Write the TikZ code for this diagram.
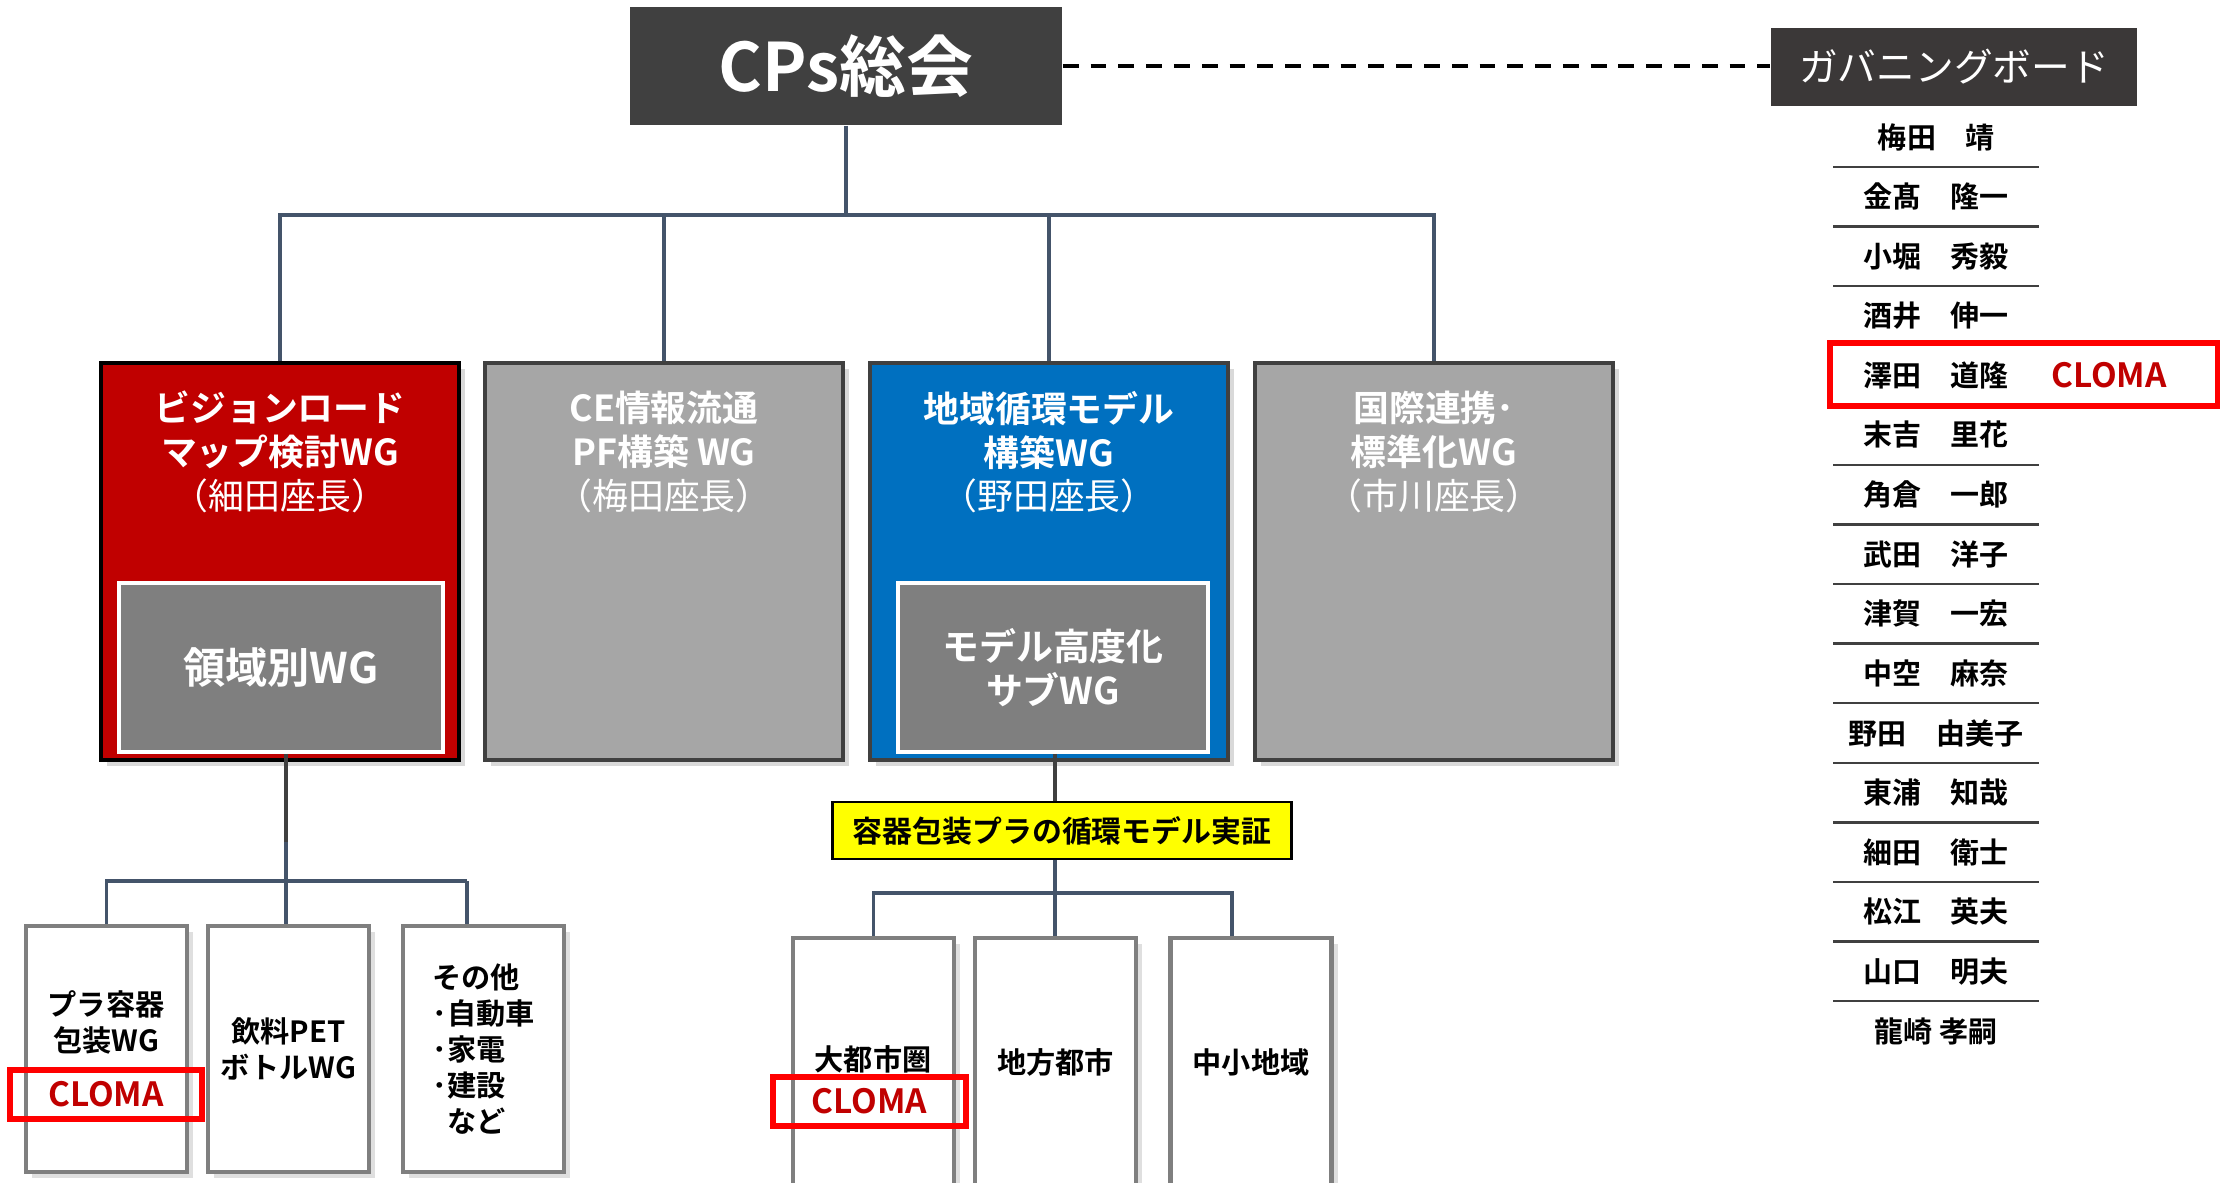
\documentclass[tikz,border=0pt]{standalone}
\usepackage{fontspec}
\setmainfont{Noto Sans CJK JP}[BoldFont={Noto Sans CJK JP Bold}]
\usepackage{xcolor}
\usetikzlibrary{shadows,positioning}

\definecolor{cpsgray}{HTML}{404040}
\definecolor{boardgray}{HTML}{3B3838}
\definecolor{wgred}{HTML}{C00000}
\definecolor{wgblue}{HTML}{0070C0}
\definecolor{wggray}{HTML}{A6A6A6}
\definecolor{subgray}{HTML}{7F7F7F}
\definecolor{linkblue}{HTML}{44546A}
\definecolor{markred}{HTML}{FF0000}
\definecolor{demoyellow}{HTML}{FFFF00}

\tikzset{
  wgbox/.style={draw=cpsgray, line width=1pt, minimum width=3.58cm, minimum height=3.97cm,
    drop shadow={shadow xshift=0.06cm, shadow yshift=-0.06cm, opacity=0.3}},
  wgtitle/.style={text=white, align=center, inner sep=0pt, font=\fontsize{10.2}{12.5}\selectfont},
  innerbox/.style={fill=subgray, draw=white, line width=1.1pt, minimum height=1.69cm,
    text=white, align=center},
  smallbox/.style={fill=white, draw=subgray, line width=1.2pt, minimum width=1.61cm,
    drop shadow={shadow xshift=0.06cm, shadow yshift=-0.06cm, opacity=0.25}},
  smalltext/.style={font=\bfseries\fontsize{8.3}{10.2}\selectfont},
  cloma/.style={text=wgred, font=\bfseries\fontsize{9.5}{11}\selectfont},
  clomabox/.style={draw=markred, line width=1.5pt, minimum width=1.92cm, minimum height=0.47cm},
  member/.style={font=\bfseries\fontsize{8.25}{10}\selectfont},
  sepline/.style={draw=cpsgray, line width=0.7pt},
  link/.style={draw=linkblue, line width=0.9pt},
  stem/.style={draw=cpsgray, line width=1.4pt}
}

\begin{document}
\begin{tikzpicture}[x=0.01cm, y=-0.01cm]
  \useasboundingbox (0,0) rectangle (2233,1183);

  %% general assembly and board
  \node[fill=cpsgray, text=white, minimum width=4.32cm, minimum height=1.18cm,
    font=\bfseries\fontsize{19}{22}\selectfont] (cps) at (846,66) {CPs総会};
  \node[fill=boardgray, text=white, minimum width=3.66cm, minimum height=0.78cm,
    font=\fontsize{11}{13}\selectfont] (board) at (1954,67) {ガバニングボード};
  \draw[line width=1.4pt, dash pattern=on 4.5pt off 3.4pt] (cps.east) -- (cps.east -| board.west);

  %% working groups
  \node[wgbox, fill=wgred, draw=black, line width=1.2pt] (wg1) at (280,561.5) {};
  \node[wgbox, fill=wggray] (wg2) at (664,561.5) {};
  \node[wgbox, fill=wgblue] (wg3) at (1049,561.5) {};
  \node[wgbox, fill=wggray] (wg4) at (1434,561.5) {};

  \node[wgtitle] (wg1title) at ([yshift=-0.91cm]wg1.north)
    {\textbf{ビジョンロード}\\\textbf{マップ検討WG}\\（細田座長）};
  \node[wgtitle] (wg2title) at ([yshift=-0.91cm]wg2.north)
    {\textbf{CE情報流通}\\\textbf{PF構築 WG}\\（梅田座長）};
  \node[wgtitle] (wg3title) at ([yshift=-0.91cm]wg3.north)
    {\textbf{地域循環モデル}\\\textbf{構築WG}\\（野田座長）};
  \node[wgtitle] (wg4title) at ([yshift=-0.91cm]wg4.north)
    {\textbf{国際連携･}\\\textbf{標準化WG}\\（市川座長）};

  \node[innerbox, minimum width=3.24cm, font=\bfseries\fontsize{12}{14}\selectfont] (in1) at (281,667.5) {領域別WG};
  \node[innerbox, minimum width=3.10cm, font=\bfseries\fontsize{10.5}{12.5}\selectfont] (in2) at (1053,667.5) {モデル高度化\\サブWG};

  \coordinate (bar) at (846,215);
  \draw[link] (cps.south) -- (bar);
  \draw[link] (wg1.north) |- (bar) -| (wg4.north);
  \draw[link] (wg2.north) -- (wg2.north |- bar);
  \draw[link] (wg3.north) -- (wg3.north |- bar);

  %% sub groups of the road map WG
  \node[smallbox, minimum height=2.46cm] (sub1) at (106.5,1049) {};
  \node[smallbox, minimum height=2.46cm, smalltext, align=center] (sub2) at (288.5,1049) {飲料PET\\ボトルWG};
  \node[smallbox, minimum height=2.46cm, smalltext, align=left] (sub3) at (483.5,1049)
    {その他\\･自動車\\･家電\\･建設\\\hspace{0.5em}など};
  \node[smalltext, align=center] (sub1text) at (106,1022) {プラ容器\\包装WG};
  \node[clomabox, cloma] (sub1cloma) at (106,1094.5) {CLOMA};

  \coordinate (lstem) at (286,842);
  \coordinate (lbar) at (286,881);
  \coordinate (lbarR) at (467,881);
  \draw[stem] (in1.south -| lstem) -- (lstem);
  \draw[link] (lstem) -- (lbar);
  \draw[link] (sub1.north) |- (lbarR);
  \draw[link] (sub2.north -| lbar) -- (lbar);
  \draw[link] (sub3.north -| lbarR) -- (lbarR);

  %% regional model demonstration
  \node[fill=demoyellow, draw=black, line width=0.8pt, minimum width=4.59cm, minimum height=0.57cm,
    font=\bfseries\fontsize{8.5}{10}\selectfont] (demo) at (1062,830.5) {容器包装プラの循環モデル実証};

  \node[smallbox, minimum height=2.48cm] (reg1) at (873.5,1062) {};
  \node[smallbox, minimum height=2.48cm, smalltext] (reg2) at (1055.5,1062) {地方都市};
  \node[smallbox, minimum height=2.48cm, smalltext] (reg3) at (1251,1062) {中小地域};
  \node[smalltext] (reg1text) at (873,1059) {大都市圏};
  \node[clomabox, cloma, minimum width=1.93cm] (reg1cloma) at (869.5,1101.5) {CLOMA};

  \coordinate (mbar) at (1055,893);
  \draw[stem] (in2.south -| mbar) -- (demo.north -| mbar);
  \draw[link, line width=1.4pt] (demo.south -| mbar) -- (mbar);
  \draw[link] (reg1.north) |- (mbar) -| ([xshift=-0.19cm]reg3.north);
  \draw[link] (reg2.north -| mbar) -- (mbar);

  %% governing board members
  \foreach \nm [count=\i from 0] in {梅田　靖, 金髙　隆一, 小堀　秀毅, 酒井　伸一, 澤田　道隆,
      末吉　里花, 角倉　一郎, 武田　洋子, 津賀　一宏, 中空　麻奈, 野田　由美子, 東浦　知哉,
      細田　衛士, 松江　英夫, 山口　明夫, 龍崎 孝嗣}
    \node[member] (gb\i) at (1936,{137+59.6*\i}) {\nm};
  \foreach \i in {0,1,2,5,6,...,14}
    \draw[sepline] (1833,{166.8+59.6*\i}) -- (2039,{166.8+59.6*\i});
  \node[clomabox, minimum width=3.87cm, minimum height=0.63cm] (gbmark) at (2023.5,374.5) {};
  \node[cloma] (gbcloma) at (2109,375) {CLOMA};
\end{tikzpicture}
\end{document}
